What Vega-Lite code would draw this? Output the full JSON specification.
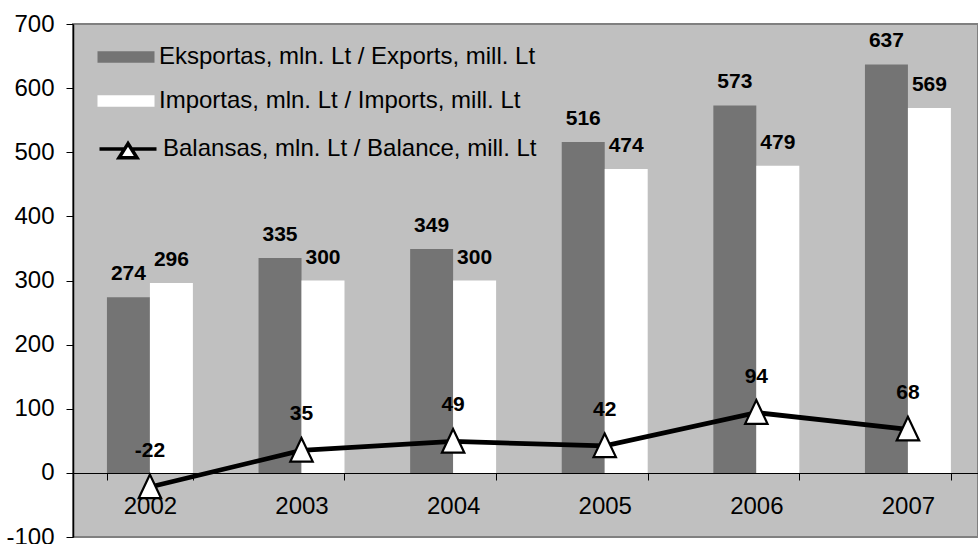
{
  "$schema": "https://vega.github.io/schema/vega-lite/v6.json",
  "width": 905,
  "height": 513,
  "autosize": {"type": "none"},
  "padding": {"left": 73, "top": 24, "right": 0, "bottom": 7},
  "background": "white",
  "config": {
    "font": "Liberation Sans",
    "view": {"fill": "#c0c0c0", "stroke": "#808080", "strokeWidth": 2},
    "axis": {"labelFont": "Liberation Sans", "labelColor": "black", "domainColor": "black", "tickColor": "black", "grid": false, "title": null}
  },
  "datasets": {
    "bars": [
      {"year": "2002", "series": "Eksportas, mln. Lt / Exports, mill. Lt", "value": 274},
      {"year": "2002", "series": "Importas, mln. Lt / Imports, mill. Lt", "value": 296},
      {"year": "2003", "series": "Eksportas, mln. Lt / Exports, mill. Lt", "value": 335},
      {"year": "2003", "series": "Importas, mln. Lt / Imports, mill. Lt", "value": 300},
      {"year": "2004", "series": "Eksportas, mln. Lt / Exports, mill. Lt", "value": 349},
      {"year": "2004", "series": "Importas, mln. Lt / Imports, mill. Lt", "value": 300},
      {"year": "2005", "series": "Eksportas, mln. Lt / Exports, mill. Lt", "value": 516},
      {"year": "2005", "series": "Importas, mln. Lt / Imports, mill. Lt", "value": 474},
      {"year": "2006", "series": "Eksportas, mln. Lt / Exports, mill. Lt", "value": 573},
      {"year": "2006", "series": "Importas, mln. Lt / Imports, mill. Lt", "value": 479},
      {"year": "2007", "series": "Eksportas, mln. Lt / Exports, mill. Lt", "value": 637},
      {"year": "2007", "series": "Importas, mln. Lt / Imports, mill. Lt", "value": 569}
    ],
    "balance": [
      {"year": "2002", "value": -22},
      {"year": "2003", "value": 35},
      {"year": "2004", "value": 49},
      {"year": "2005", "value": 42},
      {"year": "2006", "value": 94},
      {"year": "2007", "value": 68}
    ]
  },
  "encoding": {
    "x": {
      "field": "year",
      "type": "nominal",
      "scale": {"paddingInner": 0.433, "paddingOuter": 0.2013, "align": 0.556},
      "axis": {"orient": "bottom", "offset": -64, "labelAngle": 0, "labelFontSize": 24, "tickBand": "extent", "tickSize": 7, "labelPadding": 14, "domainWidth": 1.2}
    },
    "y": {
      "field": "value",
      "type": "quantitative",
      "scale": {"domain": [-100, 700], "nice": false, "zero": false},
      "axis": {"values": [-100, 0, 100, 200, 300, 400, 500, 600, 700], "labelExpr": "'' + datum.value", "labelFontSize": 24, "tickSize": 7, "labelPadding": 12, "domainWidth": 1.5}
    }
  },
  "layer": [
    {
      "data": {"name": "bars"},
      "mark": {"type": "bar", "strokeWidth": 0},
      "encoding": {
        "xOffset": {"field": "series", "type": "nominal", "scale": {"domain": ["Eksportas, mln. Lt / Exports, mill. Lt", "Importas, mln. Lt / Imports, mill. Lt"], "paddingInner": 0, "paddingOuter": 0}},
        "fill": {
          "field": "series",
          "type": "nominal",
          "scale": {"domain": ["Eksportas, mln. Lt / Exports, mill. Lt", "Importas, mln. Lt / Imports, mill. Lt"], "range": ["#747474", "#ffffff"]},
          "legend": {
            "orient": "none", "legendX": 38, "legendY": 18, "title": null, "padding": 0,
            "symbolType": "M-1.9,-0.38H1.9V0.38H-1.9Z", "symbolSize": 900, "symbolStrokeWidth": 0, "symbolOpacity": 1,
            "labelFontSize": 24, "labelFont": "Liberation Sans", "labelColor": "black", "labelOffset": 18, "rowPadding": 17, "labelLimit": 600
          }
        }
      }
    },
    {
      "data": {"name": "bars"},
      "mark": {"type": "text", "dy": -17, "baseline": "alphabetic", "fontSize": 21, "fontWeight": "bold", "color": "black"},
      "encoding": {
        "xOffset": {"field": "series", "type": "nominal", "scale": {"domain": ["Eksportas, mln. Lt / Exports, mill. Lt", "Importas, mln. Lt / Imports, mill. Lt"], "paddingInner": 0, "paddingOuter": 0}},
        "text": {"field": "value", "type": "nominal"}
      }
    },
    {
      "data": {"name": "balance"},
      "mark": {"type": "line", "strokeWidth": 4.8},
      "encoding": {
        "stroke": {
          "datum": "Balansas, mln. Lt / Balance, mill. Lt",
          "scale": {"range": ["black"]},
          "legend": {
            "orient": "none", "legendX": 38, "legendY": 108, "title": null, "padding": 0,
            "symbolType": "M-1.9,0H-0.21M0.21,0H1.9M0,-0.36L-0.6,0.58L0.6,0.58Z", "symbolSize": 900,
            "labelFontSize": 24, "labelFont": "Liberation Sans", "labelColor": "black", "labelOffset": 18, "labelLimit": 600,
            "encode": {"symbols": {"update": {"fill": {"value": "white"}, "stroke": {"value": "black"}, "strokeWidth": {"value": 3.5}, "opacity": {"value": 1}}}}
          }
        }
      }
    },
    {
      "data": {"name": "balance"},
      "mark": {"type": "point", "shape": "M0,-1L-0.9,0.9L0.9,0.9Z", "size": 620, "filled": true, "fill": "white", "stroke": "black", "strokeWidth": 2.2, "opacity": 1}
    },
    {
      "data": {"name": "balance"},
      "mark": {"type": "text", "dy": -30, "baseline": "alphabetic", "fontSize": 21, "fontWeight": "bold", "color": "black"},
      "encoding": {
        "text": {"field": "value", "type": "nominal"}
      }
    }
  ]
}
